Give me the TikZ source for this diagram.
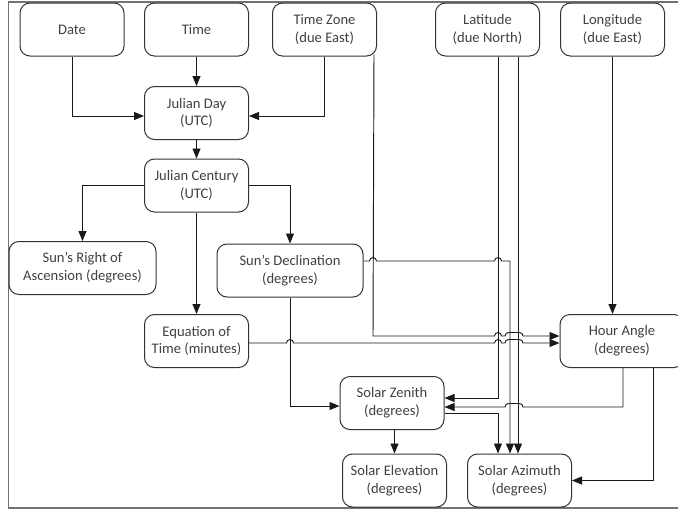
\documentclass[tikz,border=0pt]{standalone}
\usepackage{fontspec}
\setmainfont{Carlito}
\usetikzlibrary{arrows.meta}
\tikzset{
  block/.style={
    draw=black!80,
    line width=1pt,
    rounded corners=10pt,
    minimum width=104pt,
    minimum height=53pt,
    inner sep=2pt,
    align=center,
    text=black!75,
    font=\fontsize{14.6}{17.8}\selectfont
  },
  flow/.style={
    -{Triangle[length=10pt, width=8pt]},
    line width=0.95pt,
    draw=black!90
  },
  frame line/.style={
    draw=black!55,
    line width=1.5pt
  }
}

\begin{document}
\begin{tikzpicture}[x=1pt, y=-1pt]

  \useasboundingbox (0,0) rectangle (678,509);

  %% ---- outer frame (right side runs off the page) ----
  \draw[frame line] (8.5,2) rectangle (700,508);

  %% ---- inputs ----
  \node[block] (date)  at (72,29.5)    {Date};
  \node[block] (time)  at (196.5,29.5) {Time};
  \node[block] (tzone) at (324.5,29.5) {Time Zone\\(due East)};
  \node[block] (lat)   at (487.5,29.5) {Latitude\\(due North)};
  \node[block] (lon)   at (612.5,29.5) {Longitude\\(due East)};

  %% ---- intermediate quantities ----
  \node[block] (jday)   at (196.5,113)   {Julian Day\\(UTC)};
  \node[block] (jcent)  at (196.5,185.5) {Julian Century\\(UTC)};
  \node[block, minimum width=147pt] (sunra)  at (82.5,268)  {Sun’s Right of\\Ascension (degrees)};
  \node[block, minimum width=146pt] (sundec) at (290,270.5) {Sun’s Declination\\(degrees)};
  \node[block] (eqtime) at (196.5,341) {Equation of\\Time (minutes)};
  \node[block, minimum width=124pt] (hangle) at (622,341) {Hour Angle\\(degrees)};

  %% ---- results ----
  \node[block] (zenith) at (392,403)     {Solar Zenith\\(degrees)};
  \node[block] (elev)   at (394.5,480.5) {Solar Elevation\\(degrees)};
  \node[block] (azim)   at (519.5,480.5) {Solar Azimuth\\(degrees)};

  %% ---- Julian day and century ----
  \draw[flow] (date.south) |- ([yshift=-3pt]jday.west);
  \draw[flow] (time) -- (jday);
  \draw[flow] (tzone.south) |- ([yshift=-3pt]jday.east);
  \draw[flow] (jday) -- (jcent);
  \draw[flow] (jcent.west) -| (sunra.north);
  \draw[flow] (jcent) -- (eqtime);
  \draw[flow] (jcent.east) -| (sundec.north);

  %% ---- verticals from latitude and longitude ----
  \draw[flow] ([xshift=10.5pt]lat.south) |- ([yshift=5pt]zenith.east);
  \draw[flow] ([xshift=30.5pt]lat.south) -- ([xshift=30.5pt]lat.south |- azim.north);
  \draw[flow] (lon.south) -- (lon.south |- hangle.north);

  %% ---- declination (hops over time zone and latitude) ----
  \draw[flow] ([yshift=9.5pt]sundec.east)
      -- (369.5,261) arc[start angle=180, end angle=0, radius=3.5pt]
      -- (494.5,261) arc[start angle=180, end angle=0, radius=3.5pt]
      -- (510,261) -- (510,0 |- azim.north);
  \draw[flow] (sundec.south) |- ([yshift=-3pt]zenith.west);

  %% ---- time zone -> hour angle ----
  \draw[flow] ([xshift=-3pt, yshift=2pt]tzone.south east) -- (373,336)
      -- (494.5,336) arc[start angle=180, end angle=0, radius=3.5pt]
      -- (505,336) arc[start angle=180, end angle=90, radius=3.5pt]
      -- (519.5,332.5) arc[start angle=90, end angle=0, radius=3.5pt]
      -- (hangle.west |- 0,336);

  %% ---- equation of time -> hour angle ----
  \draw[flow] ([yshift=-2pt]eqtime.east)
      -- (286.5,343) arc[start angle=180, end angle=0, radius=3.5pt]
      -- (494.5,343) arc[start angle=180, end angle=0, radius=3.5pt]
      -- (505,343) arc[start angle=180, end angle=90, radius=3.5pt]
      -- (519.5,339.5) arc[start angle=90, end angle=0, radius=3.5pt]
      -- (hangle.west |- 0,343);

  %% ---- hour angle -> zenith and azimuth ----
  \draw[flow] ([xshift=1pt]hangle.south) -- (623,407)
      -- (523,407) arc[start angle=0, end angle=90, radius=3.5pt]
      -- (508.5,403.5) arc[start angle=90, end angle=180, radius=3.5pt]
      -- (zenith.east |- 0,407);
  \draw[flow] ([xshift=31pt]hangle.south) |- (azim.east);

  %% ---- zenith -> elevation and azimuth ----
  \draw[flow] ([yshift=-10pt]zenith.east) -| ([xshift=-21.5pt]azim.north);
  \draw[flow] (elev.north |- zenith.south) -- (elev.north);

\end{tikzpicture}
\end{document}
